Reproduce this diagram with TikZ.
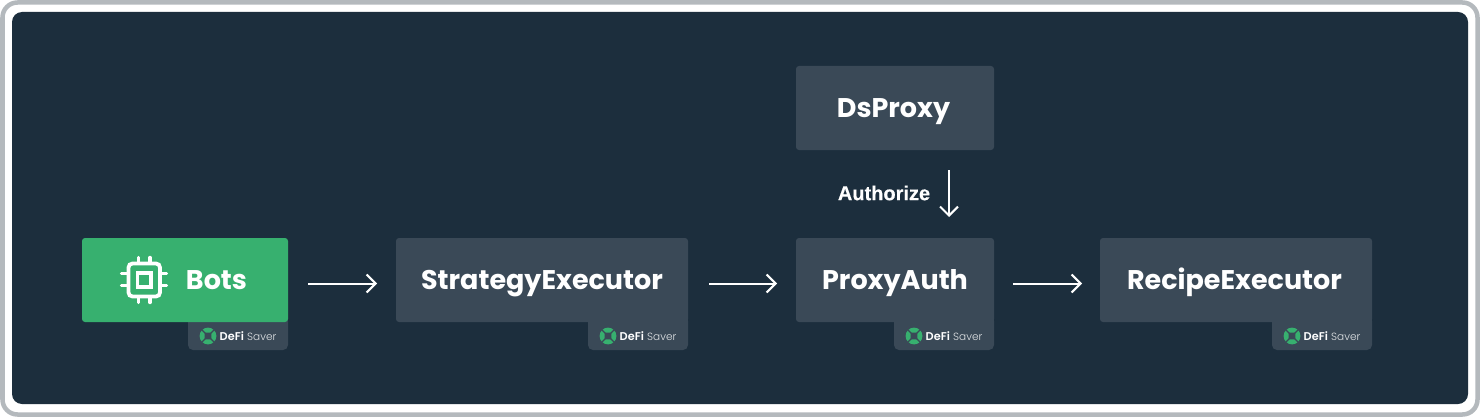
\documentclass[tikz,border=0pt]{standalone}
\usepackage{fontspec}
\setmainfont{Poppins}
\newfontfamily\labelfont{Poppins}[UprightFont={* Bold},BoldFont={* Bold}]
\newfontfamily\tabfont{Poppins}[UprightFont={* SemiBold}]
\newfontfamily\authfont{Liberation Sans}[BoldFont={* Bold},BoldFeatures={FakeBold=0.5}]
\newfontfamily\saverfont{Poppins}[UprightFont={* Light}]
\usetikzlibrary{arrows.meta,positioning}
\definecolor{panelc}{HTML}{1C2E3D}
\definecolor{boxc}{HTML}{3A4957}
\definecolor{greenc}{HTML}{37B06F}
\definecolor{framec}{HTML}{B4B9BD}
\tikzset{
  x=1pt,y=-1pt,
  base/.style={anchor=center,inner sep=0pt,outer sep=0pt,rounded corners=3pt,text=white,text height=18pt,text depth=0pt,font=\labelfont\fontsize{27}{30}\selectfont},
  darkbox/.style={base,fill=boxc,minimum height=84pt},
  greenbox/.style={base,fill=greenc,minimum height=84pt},
  link/.style={draw=white,line width=2pt,-{Straight Barb[length=9pt,width=18pt,line width=2pt]}},
  pin/.style={draw=white,line width=3.4pt,line cap=round},
}
% bottom-right tab: x = right edge of its box, y = bottom edge of its box
\newcommand{\savertab}[2]{%
  \fill[boxc,rounded corners=5pt] (#1-100,#2-6) rectangle (#1,#2+28);
  \fill[boxc] (#1-100,#2-6) rectangle (#1,#2+8);
  \fill[greenc] (#1-80,#2+14) circle (8.4pt);
  \fill[boxc,rounded corners=1pt] (#1-83.4,#2+10.6) rectangle (#1-76.6,#2+17.4);
  \foreach \a in {45,135,225,315}
    \draw[boxc,line width=1.1pt] (#1-80,#2+14) -- ++(\a:9);
  \node[anchor=base west,inner sep=0pt,text=white,font=\tabfont\fontsize{11.3}{13}\selectfont] at (#1-68.5,#2+18) {DeFi};
  \node[anchor=base west,inner sep=0pt,text=white!85!boxc,font=\saverfont\fontsize{10.5}{13}\selectfont] at (#1-41,#2+18) {Saver};
}
\begin{document}
\begin{tikzpicture}
\useasboundingbox (0,0) rectangle (1480,417);
\fill[white] (0,0) rectangle (1480,417);
\draw[framec,line width=4.5pt,rounded corners=15pt] (2.5,2.5) rectangle (1477.5,414.5);
\fill[panelc,rounded corners=10pt] (12,12) rectangle (1468,404);
% tabs
\savertab{288}{322}
\savertab{688}{322}
\savertab{994}{322}
\savertab{1372}{322}
% boxes
\node[greenbox,minimum width=206pt] (bots) at (185,280) {};
\node[base,anchor=center] (botslabel) at (216.5,280) {Bots};
\node[darkbox,minimum width=292pt] (strategy) at (542,280) {StrategyExecutor};
\node[darkbox,minimum width=198pt] (auth) at (895,280) {ProxyAuth};
\node[darkbox,minimum width=272pt] (recipe) at (1236,280) {RecipeExecutor\hspace*{3pt}};
\node[darkbox,minimum width=198pt,text height=20pt] (dsproxy) at (895,108) {DsProxy\hspace*{3pt}};
% chip icon
\draw[white,line width=3.8pt,rounded corners=4pt] (128.5,263.5) rectangle (160,296.5);
\draw[white,line width=3.4pt] (137.5,273) rectangle (151,287);
\foreach \px in {138.5,150}{
  \draw[pin] (\px,257.5) -- (\px,262);
  \draw[pin] (\px,298) -- (\px,302.5);
}
\foreach \py in {273.5,285.5}{
  \draw[pin] (121.5,\py) -- (127,\py);
  \draw[pin] (161.5,\py) -- (166.5,\py);
}
% connectors
\coordinate (a1) at (308,283.5); \coordinate (b1) at (377,283.5);
\coordinate (a2) at (709,283.5); \coordinate (b2) at (777,283.5);
\coordinate (a3) at (1013,283.5); \coordinate (b3) at (1082,283.5);
\coordinate (a4) at (949,170); \coordinate (b4) at (949,217);
\draw[link] (a1) -- (b1);
\draw[link] (a2) -- (b2);
\draw[link] (a3) -- (b3);
\draw[link] (a4) -- (b4);
\node[anchor=center,inner sep=0pt,text=white,font=\authfont\bfseries\fontsize{20}{24}\selectfont] (authorize) at (884,193) {Authorize};
\end{tikzpicture}
\end{document}
